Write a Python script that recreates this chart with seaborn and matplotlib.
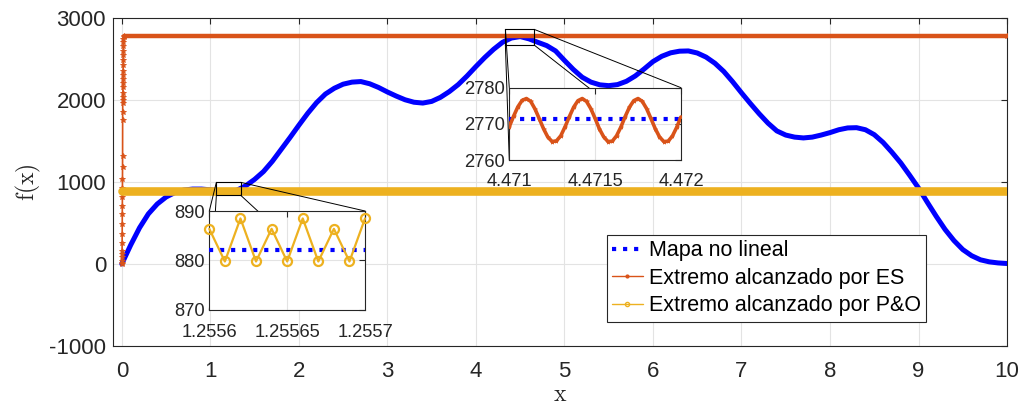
import numpy as np
import pandas as pd
import matplotlib
matplotlib.use("Agg")
import matplotlib.pyplot as plt
import seaborn as sns
from matplotlib.lines import Line2D
from matplotlib.patches import Rectangle, ConnectionPatch

# ---------------- data ----------------
map_x = np.linspace(0, 10, 101)
map_f = [0, 230, 440, 610, 730, 815, 870, 900, 912, 912,
         903, 890, 883, 898, 952, 1030, 1125, 1250, 1395, 1540,
         1690, 1835, 1965, 2070, 2140, 2190, 2215, 2222, 2195, 2150,
         2095, 2045, 2000, 1970, 1960, 1980, 2030, 2100, 2185, 2290,
         2405, 2515, 2615, 2700, 2752, 2770, 2742, 2700, 2660, 2595,
         2480, 2370, 2275, 2215, 2182, 2172, 2185, 2225, 2290, 2375,
         2465, 2530, 2572, 2592, 2595, 2570, 2520, 2445, 2345, 2220,
         2085, 1955, 1830, 1715, 1620, 1570, 1545, 1535, 1545, 1570,
         1600, 1635, 1657, 1660, 1635, 1575, 1480, 1360, 1230, 1080,
         925, 750, 580, 420, 285, 175, 100, 50, 25, 12, 5]

es_f_transient = [0, 15, 40, 80, 120, 160, 260, 365, 485, 610, 710, 810, 920,
                  1035, 1180, 1320, 1750, 1850, 1960, 1995, 2030, 2080, 2150,
                  2200, 2250, 2300, 2350, 2420, 2480, 2540, 2600, 2650, 2700,
                  2740, 2760, 2771]
es_t_transient = np.linspace(0, 0.02, len(es_f_transient))
es_t = list(es_t_transient) + [10.0]
es_f = es_f_transient + [2771]

po_t = [0.0, 10.0]
po_f = [886, 886]

# zoom 1 (P&O)
z1_t = [1.25560, 1.25561, 1.25562, 1.25563, 1.25564, 1.25565,
        1.25566, 1.25567, 1.25568, 1.25569, 1.25570]
z1_po = [886.4, 879.8, 888.5, 879.8, 886.4, 879.8, 888.5, 879.8, 886.4, 879.8, 888.5]
z1_map_t = [1.2556, 1.2557]
z1_map = [882.2, 882.2]
z1_xticks = [1.2556, 1.25565, 1.2557]
z1_xlabels = ["1.2556", "1.25565", "1.2557"]
z1_yticks = [870, 880, 890]

# zoom 2 (ES)
z2_t = 4.471 + np.arange(41) * 25e-6
z2_es = [2769.2, 2772.1, 2774.7, 2776.5, 2777.0, 2776.2, 2774.1, 2771.4, 2768.6,
         2766.3, 2765.1, 2765.3, 2766.7, 2769.2, 2772.0, 2774.6, 2776.4, 2777.0,
         2776.2, 2774.2, 2771.5, 2768.6, 2766.4, 2765.1, 2765.2, 2766.7, 2769.1,
         2772.0, 2774.6, 2776.4, 2777.0, 2776.2, 2774.2, 2771.5, 2768.7, 2766.4,
         2765.1, 2765.2, 2766.6, 2769.0, 2771.9]
z2_map_t = [4.471, 4.472]
z2_map = [2771.3, 2771.3]
z2_xticks = [4.471, 4.4715, 4.472]
z2_xlabels = ["4.471", "4.4715", "4.472"]
z2_yticks = [2760, 2770, 2780]

main_xticks = list(range(0, 11))
main_yticks = [-1000, 0, 1000, 2000, 3000]
main_ylabels = ["-1000", "0", "1000", "2000", "3000"]

labels = ["Mapa no lineal", "Extremo alcanzado por ES", "Extremo alcanzado por P&O"]

# ---------------- style ----------------
sns.set_theme(style="whitegrid")
plt.rcParams['font.family'] = ['Liberation Sans', 'DejaVu Sans']
plt.rcParams['mathtext.fontset'] = 'cm'

BLUE = '#0000FF'
ORANGE = '#D95319'
YELLOW = '#EDB120'
DARK = '#262626'
GRID = '#E3E3E3'

fig = plt.figure(figsize=(10.28, 4.05), dpi=100)
ax = fig.add_axes([0.1099, 0.1457, 0.8697, 0.8106])


def style_axes(a, fs):
    a.set_facecolor('white')
    for s in a.spines.values():
        s.set_color(DARK)
        s.set_linewidth(0.8)
        s.set_visible(True)
    a.grid(True, color=GRID, linewidth=0.8)
    a.tick_params(direction='in', length=4, width=0.8, colors=DARK,
                  labelsize=fs, top=True, right=True,
                  labeltop=False, labelright=False)


# main plot
sns.lineplot(x=map_x, y=map_f, ax=ax, color=BLUE, lw=3.6, estimator=None,
             sort=False, zorder=3)
sns.lineplot(x=es_t, y=es_f, ax=ax, color=ORANGE, lw=1.2, marker='*',
             markersize=4, markeredgewidth=0.6, markeredgecolor=ORANGE,
             estimator=None, sort=False, zorder=4)
sns.lineplot(x=es_t[-2:], y=es_f[-2:], ax=ax, color=ORANGE, lw=3.2,
             estimator=None, sort=False, zorder=4)
sns.lineplot(x=po_t, y=po_f, ax=ax, color=YELLOW, lw=6.2, estimator=None,
             sort=False, zorder=5, solid_capstyle='round')

ax.set_xlim(-0.1, 10)
ax.set_ylim(-1000, 3000)
ax.set_xticks(main_xticks)
ax.set_xticklabels([str(v) for v in main_xticks])
ax.set_yticks(main_yticks)
ax.set_yticklabels(main_ylabels)
style_axes(ax, 16)
ax.tick_params(axis='x', pad=11)
ax.tick_params(axis='y', pad=5)
ax.set_xlabel(r'$\mathrm{x}$', fontsize=17, color=DARK, labelpad=1)
ax.set_ylabel(r'$\mathrm{f(x)}$', fontsize=17, color=DARK, labelpad=4)

# zoom boxes on main
box1 = (1.068, 836, 1.343 - 1.068, 994 - 836)
box2 = (4.333, 2667, 4.658 - 4.333, 2858 - 2667)
for (bx, by, bw, bh) in (box1, box2):
    ax.add_patch(Rectangle((bx, by), bw, bh, fill=False, edgecolor='black',
                           lw=0.8, zorder=6))

# insets
ax1 = fig.add_axes([0.2036, 0.2346, 0.1515, 0.2444], zorder=3)
sns.lineplot(x=z1_map_t, y=z1_map, ax=ax1, color=BLUE, lw=3, linestyle=':',
             estimator=None, sort=False, zorder=3)
sns.lineplot(x=z1_t, y=z1_po, ax=ax1, color=YELLOW, lw=1.6, marker='o',
             markersize=6.5, markerfacecolor='none', markeredgecolor=YELLOW,
             markeredgewidth=1.6, estimator=None, sort=False, zorder=4,
             clip_on=False)
ax1.set_xlim(1.2556, 1.2557)
ax1.set_ylim(870, 890)
ax1.set_xticks(z1_xticks)
ax1.set_xticklabels(z1_xlabels)
ax1.set_yticks(z1_yticks)
ax1.set_yticklabels([str(v) for v in z1_yticks])
style_axes(ax1, 13.2)
ax1.tick_params(axis='x', pad=10)
ax1.tick_params(axis='y', pad=3)

ax2 = fig.add_axes([0.4954, 0.6049, 0.1670, 0.1786], zorder=3)
sns.lineplot(x=z2_map_t, y=z2_map, ax=ax2, color=BLUE, lw=3, linestyle=':',
             estimator=None, sort=False, zorder=3)
sns.lineplot(x=z2_t, y=z2_es, ax=ax2, color=ORANGE, lw=2.6, marker='*',
             markersize=3, markeredgewidth=0.5, markeredgecolor=ORANGE,
             estimator=None, sort=False, zorder=4)
ax2.set_xlim(4.471, 4.472)
ax2.set_ylim(2760, 2780)
ax2.set_xticks(z2_xticks)
ax2.set_xticklabels(z2_xlabels)
ax2.set_yticks(z2_yticks)
ax2.set_yticklabels([str(v) for v in z2_yticks])
style_axes(ax2, 13.2)
ax2.tick_params(axis='x', pad=9)
ax2.tick_params(axis='y', pad=3)

# connector lines (corner to corner)
for (bx, by, bw, bh), inset in ((box1, ax1), (box2, ax2)):
    corners = [((bx, by + bh), (0, 1)), ((bx + bw, by + bh), (1, 1)),
               ((bx, by), (0, 0)), ((bx + bw, by), (1, 0))]
    for pa, pb in corners:
        con = ConnectionPatch(xyA=pa, coordsA=ax.transData, xyB=pb,
                              coordsB=inset.transAxes, color='black', lw=0.7,
                              zorder=1)
        fig.add_artist(con)

# legend
handles = [
    Line2D([], [], color=BLUE, lw=3, linestyle=':'),
    Line2D([], [], color=ORANGE, lw=1, marker='.', markersize=4),
    Line2D([], [], color=YELLOW, lw=1, marker='o', markersize=3,
           markerfacecolor='none'),
]
leg = fig.legend(handles, labels, loc='upper left',
                 bbox_to_anchor=(607 / 1028, 1 - 235 / 405), borderaxespad=0,
                 fontsize=15.5, frameon=True, fancybox=False, framealpha=1,
                 edgecolor=DARK, handlelength=1.4, handletextpad=0.3,
                 labelspacing=0.3, borderpad=0.25)
leg.get_frame().set_linewidth(0.8)
leg.set_zorder(10)
for t in leg.get_texts():
    t.set_color('black')

fig.savefig('out.png', dpi=100)
